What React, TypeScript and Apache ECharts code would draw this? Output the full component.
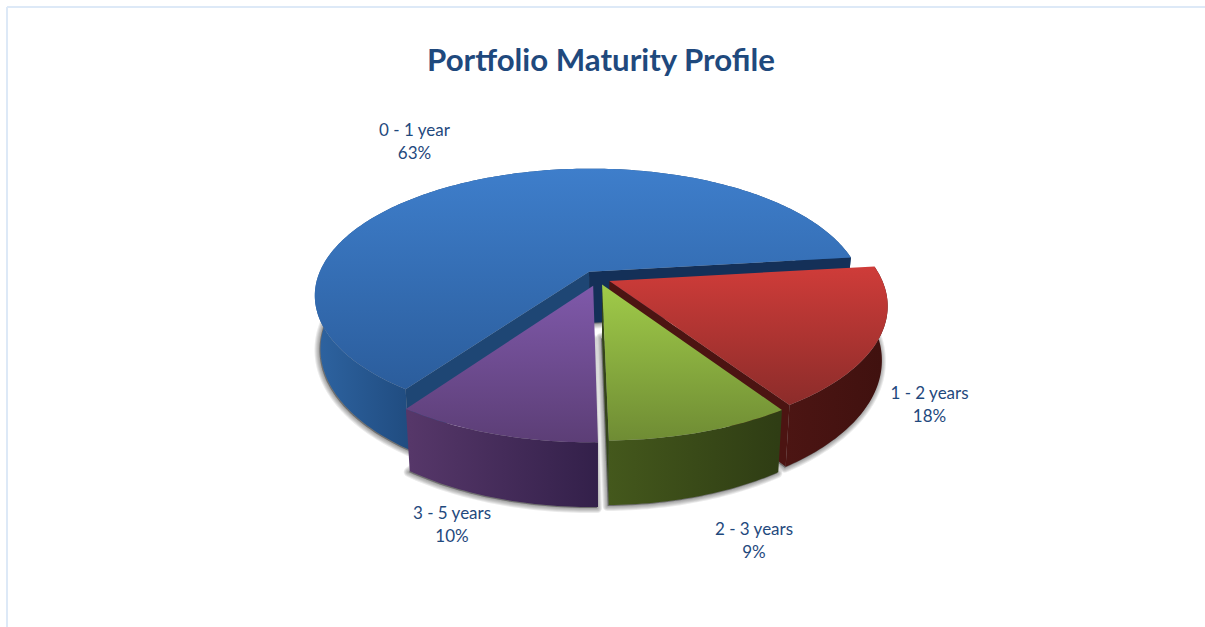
import React, { useEffect, useRef } from "react";
import * as echarts from "echarts";

const categories = ["0 - 1 year", "1 - 2 years", "2 - 3 years", "3 - 5 years"];
// the labels show them rounded
const shares = [63.4, 17.6, 9.0, 10.0];
const titleText = "Portfolio Maturity Profile";

// layout / style
const FIRST_ANGLE = 215;
const CX = 598, CY = 278.5, RX = 272, RY = 124.5, PERSP = 0.186, DEPTH = 52, TAPER = 0.02;
const explode = [0.065, 0.046, 0.05, 0.06];
const labelPos = [[414.5, 141], [929.5, 404], [754, 540], [452, 524]];
const topStops = [["#3e7ecb", "#2b5d9c"], ["#cf3c39", "#8c2c2a"], ["#a0cb49", "#6f8c34"], ["#7f59aa", "#5c3e76"]];
const sideStops = [["#2d629f", "#204c80"], ["#4c1513", "#40110f"], ["#44581c", "#2f3d14"], ["#563769", "#33204a"]];
const wallCols = [["#143058", "#1e4674"], ["#4c1412", "#4c1412"], ["#34441a", "#34441a"], ["#33204a", "#33204a"]];
const haloWidths = [10, 8, 6, 4, 2];
const TEXT = "#1f497d";

function project(X: number, Y: number, z: number): number[] {
  const w = 1 - PERSP * Y;
  return [CX + ((RX * X) / w) * (1 - TAPER * z), CY + (RY * Y) / w + (z * DEPTH) / w];
}

const rad = (d: number) => (d * Math.PI) / 180;

function sliceGeometry(i: number, value: number) {
  const total = shares.reduce((a, b) => a + b, 0);
  const before = shares.slice(0, i).reduce((a, b) => a + b, 0);
  const a0 = FIRST_ANGLE + (before / total) * 360;
  const a1 = a0 + (value / total) * 360;
  const mid = rad((a0 + a1) / 2);
  const ox = Math.sin(mid) * explode[i];
  const oy = -Math.cos(mid) * explode[i];
  const n = Math.ceil(a1 - a0);
  const angles: number[] = [];
  for (let k = 0; k <= n; k++) angles.push(rad(a0 + ((a1 - a0) * k) / n));
  const arc = (z: number) => angles.map((t) => project(ox + Math.sin(t), oy - Math.cos(t), z));
  return {
    ox, oy, angles,
    topArc: arc(0),
    botArc: arc(1),
    apexT: project(ox, oy, 0),
    apexB: project(ox, oy, 1),
  };
}

function App() {
  const ref = useRef<HTMLDivElement>(null);
  useEffect(() => {
    const chart = echarts.init(ref.current!, null, { renderer: "svg" });

    // soft shadow on the floor: stacked translucent outlines of the slice's base
    const renderShadow = (params: any, api: any) => {
      const g = sliceGeometry(params.dataIndex, api.value(0));
      const floor = [g.apexB, ...g.botArc];
      return {
        type: "group",
        x: -1,
        y: 1,
        children: haloWidths.map((w) => ({
          type: "polygon",
          shape: { points: floor },
          style: {
            fill: "rgba(0,0,0,0.08)",
            stroke: "rgba(0,0,0,0.08)",
            lineWidth: w,
            lineJoin: "round",
          },
        })),
      };
    };

    const renderItem = (params: any, api: any) => {
      const i = params.dataIndex;
      const { ox, oy, angles, topArc, botArc, apexT, apexB } = sliceGeometry(i, api.value(0));
      const grad = (c: string[]) =>
        new echarts.graphic.LinearGradient(0, 0, 0, 1, [
          { offset: 0, color: c[0] },
          { offset: 1, color: c[1] },
        ]);
      // the side's shading runs across its front-facing part only
      const frontXs = botArc.filter((_, k) => oy - Math.cos(angles[k]) > -0.05).map((p) => p[0]);
      const sideGrad = new echarts.graphic.LinearGradient(
        Math.min(...frontXs), 0, Math.max(...frontXs), 0,
        [
          { offset: 0, color: sideStops[i][0] },
          { offset: 1, color: sideStops[i][1] },
        ],
        true
      );
      const last = topArc.length - 1;
      // a cut face is drawn only when it turns toward the viewer
      const faces = (angle: number, sign: number) => {
        const nAngle = angle + (sign * Math.PI) / 2;
        return Math.sin(nAngle) * (0 - ox) + -Math.cos(nAngle) * (1 / PERSP - oy) > 0;
      };
      const wall = (idx: number, color: string) => ({
        type: "polygon",
        shape: { points: [apexT, topArc[idx], botArc[idx], apexB] },
        style: { fill: color },
      });
      const children: any[] = [
        {
          type: "polygon",
          shape: { points: [...topArc, ...botArc.slice().reverse()] },
          style: { fill: sideGrad },
        },
      ];
      if (faces(angles[last], 1)) children.push(wall(last, wallCols[i][0]));
      if (faces(angles[0], -1)) children.push(wall(0, wallCols[i][1]));
      children.push(
        {
          type: "polygon",
          shape: { points: [apexT, ...topArc] },
          style: { fill: grad(topStops[i]) },
        },
        {
          type: "text",
          x: labelPos[i][0],
          y: labelPos[i][1],
          style: {
            text: `${categories[i]}\n${Math.round(api.value(0))}%`,
            fill: TEXT,
            font: "17px Lato",
            lineHeight: 23,
            align: "center",
            verticalAlign: "middle",
          },
        }
      );
      return { type: "group", children };
    };

    const data = shares.map((v) => [v]);
    chart.setOption({
      animation: false,
      backgroundColor: "#ffffff",
      title: {
        text: titleText,
        left: 596,
        top: 38,
        textAlign: "center",
        textStyle: { fontFamily: "Lato", fontWeight: "bold", fontSize: 31.2, color: TEXT },
      },
      graphic: [
        { type: "line", shape: { x1: 7, y1: 7, x2: 1205, y2: 7 }, style: { stroke: "#dde9f7", lineWidth: 2 } },
        { type: "line", shape: { x1: 7, y1: 7, x2: 7, y2: 627 }, style: { stroke: "#dde9f7", lineWidth: 2 } },
      ],
      series: [
        { type: "custom", coordinateSystem: "none", renderItem: renderShadow, data, silent: true, z: 1 },
        { type: "custom", coordinateSystem: "none", renderItem, data, z: 2 },
      ],
    });
    return () => chart.dispose();
  }, []);
  return <div ref={ref} style={{ position: "absolute", left: 0, top: 0, width: 1205, height: 627 }} />;
}

export default App;
